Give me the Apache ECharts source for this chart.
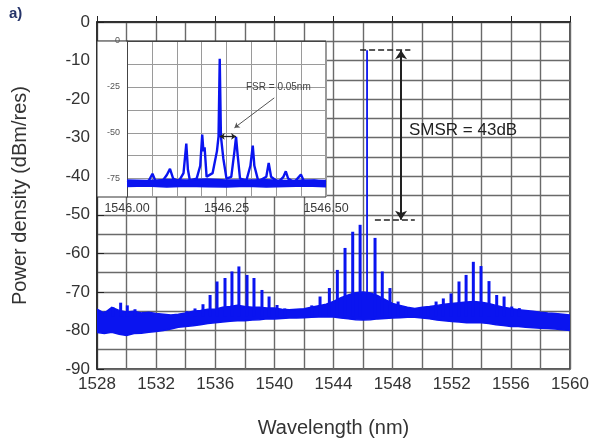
<!DOCTYPE html>
<html>
<head>
<meta charset="utf-8">
<script src="https://cdn.jsdelivr.net/npm/echarts@6/dist/echarts.min.js"></script>
<style>
  html, body { margin: 0; padding: 0; background: #fff; }
  #chart { width: 603px; height: 447px; }
</style>
</head>
<body>
<div id="chart"></div>
<script>
// 主图: 噪声底 (上沿/下沿)
const bandWl = [1528, 1528.5, 1529, 1529.5, 1530, 1530.5, 1531, 1531.5, 1532, 1532.5, 1533, 1533.5,
  1534, 1534.5, 1535, 1535.5, 1536, 1536.5, 1537, 1537.5, 1538, 1538.5, 1539, 1539.5, 1540, 1540.5,
  1541, 1541.5, 1542, 1542.5, 1543, 1543.5, 1544, 1544.5, 1545, 1545.5, 1546, 1546.5, 1547, 1547.5,
  1548, 1548.5, 1549, 1549.5, 1550, 1550.5, 1551, 1551.5, 1552, 1552.5, 1553, 1553.5, 1554, 1554.5,
  1555, 1555.5, 1556, 1556.5, 1557, 1557.5, 1558, 1558.5, 1559, 1559.5, 1560];
const bandTop = [-74.5, -75.5, -74, -74.8, -75.2, -75, -75.5, -75.3, -75.6, -75.8, -76, -75.8,
  -75.5, -75, -74.8, -74.5, -74.5, -74, -73.8, -73.5, -73.8, -74, -74, -74.2, -74.2, -74.5,
  -74.6, -74.5, -74.4, -74, -73.6, -73.2, -72.5, -71.5, -70.8, -70.2, -70, -70.3, -71, -72,
  -73, -73.5, -74, -74.3, -74, -73.8, -73.5, -73.2, -73, -72.8, -72.6, -72.5, -72.7, -73,
  -73.5, -74, -74.3, -74.6, -74.8, -75, -75.3, -75.5, -75.6, -75.8, -76];
const bandBottom = [-80.5, -80.8, -80.5, -81, -81.3, -80.8, -80.7, -80.5, -80.3, -80, -79.6, -79.2,
  -79, -78.8, -78.5, -78.2, -78, -77.8, -77.6, -77.5, -77.5, -77.3, -77.2, -77, -77, -76.9,
  -76.8, -76.8, -76.7, -76.6, -76.5, -76.5, -76.5, -76.8, -77, -77.2, -77.3, -77.2, -77, -76.9,
  -76.8, -76.7, -76.6, -76.6, -76.8, -77, -77.3, -77.5, -77.7, -77.8, -78, -78, -78, -78.2,
  -78.5, -78.7, -79, -79, -79.2, -79.3, -79.4, -79.5, -79.6, -79.8, -80];

// 主图: 梳状峰
const peakWl = [1528.54, 1529.08, 1529.6, 1530.05, 1530.57, 1531.13, 1531.7,
  1534.07, 1534.63, 1535.17, 1535.65, 1536.12, 1536.66, 1537.13, 1537.6, 1538.15, 1538.62, 1539.16, 1539.64, 1540.18, 1540.7,
  1542.53, 1543.09, 1543.72, 1544.26, 1544.78, 1545.3, 1545.8, 1546.81, 1547.3, 1547.82, 1548.37, 1548.9,
  1549.9, 1550.42, 1550.94, 1551.43, 1551.95, 1552.49, 1552.97, 1553.46, 1553.98, 1554.52, 1555.04, 1555.54, 1556.06, 1556.57];
const peakDb = [-75, -74, -72.8, -73.5, -74.5, -75.2, -75.6,
  -75, -74.3, -73.2, -70.8, -67.3, -66.4, -64.7, -63.4, -65.6, -66.4, -69.5, -71.2, -73.4, -74.3,
  -73.5, -71.2, -69, -64.3, -58.6, -54.4, -52.6, -56, -64.7, -69, -72.5, -74,
  -74.5, -73.8, -72.5, -71.7, -70.4, -67.3, -65.6, -62.2, -63.3, -67.2, -70.8, -71.2, -73.8, -74.2];
const mainPeak = [1546.27, -7.3];
const smsrFloor = -51.3;

// 插图
const insetWl = [1546.00, 1546.02, 1546.04, 1546.055, 1546.064, 1546.072, 1546.09, 1546.1, 1546.108, 1546.116,
  1546.13, 1546.142, 1546.149, 1546.153, 1546.158, 1546.175, 1546.184, 1546.189, 1546.192, 1546.195,
  1546.2, 1546.215, 1546.226, 1546.23, 1546.233, 1546.236, 1546.242, 1546.25, 1546.262, 1546.27,
  1546.274, 1546.278, 1546.284, 1546.3, 1546.31, 1546.316, 1546.32, 1546.33, 1546.35, 1546.356,
  1546.362, 1546.38, 1546.393, 1546.399, 1546.405, 1546.42, 1546.437, 1546.445, 1546.47, 1546.5];
const insetDb = [-77, -76.5, -77.5, -76, -72.3, -76.5, -76, -73, -69.7, -75,
  -76.5, -72, -55.9, -70, -76, -75, -68, -51, -60, -58,
  -74, -72, -60, -52, -9.7, -52, -64, -75, -74, -60,
  -52.2, -62, -75, -76, -68, -57, -68, -76.5, -74, -66.4,
  -74, -77, -74, -71, -75, -77, -72.8, -76.5, -76, -77];
const insetBandWl = [1546.0, 1546.05, 1546.1, 1546.15, 1546.2, 1546.25, 1546.3, 1546.35, 1546.4, 1546.45, 1546.5];
const insetBandTop = [-75.8, -76, -75.5, -75.8, -75.2, -75.8, -75.8, -75.6, -76, -75.8, -76];
const insetBandBottom = [-79.3, -79, -79.5, -79.1, -79.4, -79.6, -79.2, -79.5, -79.3, -79, -79.4];
const insetYLabels = [0, -25, -50, -75];
const insetYGrid = [0, -12.5, -25, -37.5, -50, -62.5, -75];
const fsrPeaks = [1546.233, 1546.274, -52];

const BLUE = '#0a14f0';
const GRID_LINE = { lineStyle: { color: '#6a6a6a', width: 1.4 } };
const INSET_LINE = { lineStyle: { color: '#9a9a9a', width: 1 } };

function bandItem(wl, top, bottom, color) {
  return function (params, api) {
    if (params.dataIndex !== 0) return;
    const pts = [];
    for (let i = 0; i < wl.length; i++) pts.push(api.coord([wl[i], top[i]]));
    for (let i = wl.length - 1; i >= 0; i--) pts.push(api.coord([wl[i], bottom[i]]));
    return { type: 'polygon', shape: { points: pts }, style: { fill: color, stroke: color, lineWidth: 1.5 } };
  };
}

const chart = echarts.init(document.getElementById('chart'));

const option = {
  animation: false,
  textStyle: { fontFamily: 'Liberation Sans, Arial, sans-serif' },
  graphic: [
    { type: 'text', left: 9, top: 6, style: { text: 'a)', font: 'bold 15px Liberation Sans', fill: '#26346a' } },
    { type: 'rect', z: 1, shape: { x: 97, y: 41, width: 229, height: 156 },
      style: { fill: '#fff', stroke: '#333', lineWidth: 1 } },
    { type: 'text', z: 10, left: 409, top: 122, style: { text: 'SMSR = 43dB', font: '17px Liberation Sans', fill: '#222' } },
    { type: 'text', z: 10, left: 246, top: 82, style: { text: 'FSR = 0.05nm', font: '10px Liberation Sans', fill: '#444' } }
  ],
  grid: [
    { left: 97, top: 22, width: 473, height: 347, show: true, borderColor: '#222', borderWidth: 1.5 },
    { left: 127, top: 41, width: 199, height: 156 }
  ],
  xAxis: [
    {
      type: 'value', gridIndex: 0, min: 1528, max: 1560, interval: 4,
      name: 'Wavelength (nm)', nameLocation: 'middle', nameGap: 49,
      nameTextStyle: { fontSize: 20, color: '#333' },
      axisLine: { lineStyle: { color: '#222', width: 1.5 } },
      axisTick: { inside: true, length: 6, lineStyle: { color: '#222' } },
      axisLabel: { fontSize: 17, color: '#333', margin: 7, formatter: v => String(v) },
      splitLine: GRID_LINE,
      minorTick: { show: false, splitNumber: 2 },
      minorSplitLine: Object.assign({ show: true }, GRID_LINE)
    },
    {
      type: 'value', gridIndex: 1, min: 1546.0, max: 1546.5, interval: 0.25, z: 2,
      axisLine: { lineStyle: { color: '#444', width: 1 } },
      axisTick: { show: false },
      axisLabel: { fontSize: 12.5, color: '#3a3a3a', margin: 5, formatter: v => v.toFixed(2) },
      splitLine: INSET_LINE,
      minorTick: { show: false, splitNumber: 4 },
      minorSplitLine: Object.assign({ show: true }, INSET_LINE)
    }
  ],
  yAxis: [
    {
      type: 'value', gridIndex: 0, min: -90, max: 0, interval: 10,
      name: 'Power density (dBm/res)', nameLocation: 'middle', nameGap: 67,
      nameTextStyle: { fontSize: 20, color: '#333' },
      axisLine: { lineStyle: { color: '#222', width: 1.5 } },
      axisTick: { inside: true, length: 7, lineStyle: { color: '#222' } },
      axisLabel: { fontSize: 17, color: '#333', margin: 7 },
      splitLine: GRID_LINE,
      minorTick: { show: false, splitNumber: 2 },
      minorSplitLine: Object.assign({ show: true }, GRID_LINE)
    },
    {
      type: 'value', gridIndex: 1, min: -85, max: 0, z: 2,
      axisLine: { lineStyle: { color: '#444', width: 1 } },
      axisTick: { show: false, customValues: insetYGrid },
      axisLabel: { fontSize: 9, color: '#555', margin: 7, customValues: insetYLabels },
      splitLine: INSET_LINE
    }
  ],
  series: [
    {
      type: 'custom', xAxisIndex: 0, yAxisIndex: 0, clip: true,
      data: bandWl.map((w, i) => [w, bandTop[i]]),
      renderItem: bandItem(bandWl, bandTop, bandBottom, BLUE)
    },
    {
      type: 'custom', xAxisIndex: 0, yAxisIndex: 0, clip: true,
      data: peakWl.map((w, i) => [w, peakDb[i]]),
      renderItem: function (params, api) {
        const a = api.coord([api.value(0), -76.5]);
        const b = api.coord([api.value(0), api.value(1)]);
        return { type: 'line', shape: { x1: a[0], y1: a[1], x2: b[0], y2: b[1] },
          style: { stroke: BLUE, lineWidth: 3 } };
      }
    },
    {
      type: 'line', xAxisIndex: 0, yAxisIndex: 0, showSymbol: false, symbol: 'none',
      data: [[mainPeak[0], -72], mainPeak],
      lineStyle: { color: BLUE, width: 1.8 },
      markLine: {
        silent: true, symbol: 'none', label: { show: false },
        lineStyle: { color: '#222', type: 'dashed', width: 1.5 },
        data: [
          [{ coord: [1545.8, mainPeak[1]] }, { coord: [1549.2, mainPeak[1]] }],
          [{ coord: [1546.8, smsrFloor] }, { coord: [1549.5, smsrFloor] }],
          [{ coord: [1548.57, mainPeak[1]], symbol: 'arrow', lineStyle: { type: 'solid', width: 2 } },
           { coord: [1548.57, smsrFloor], symbol: 'arrow' }]
        ],
        symbolSize: 9
      }
    },
    {
      type: 'custom', xAxisIndex: 1, yAxisIndex: 1, z: 3, clip: true,
      data: insetBandWl.map((w, i) => [w, insetBandTop[i]]),
      renderItem: bandItem(insetBandWl, insetBandTop, insetBandBottom, BLUE)
    },
    {
      type: 'line', xAxisIndex: 1, yAxisIndex: 1, z: 4, showSymbol: false, symbol: 'none',
      data: insetWl.map((w, i) => [w, insetDb[i]]),
      lineStyle: { color: BLUE, width: 2.4 },
      markLine: {
        silent: true, label: { show: false }, symbolSize: 5,
        lineStyle: { color: '#222', type: 'solid', width: 1.3 },
        data: [
          [{ coord: [fsrPeaks[0], fsrPeaks[2]], symbol: 'arrow' }, { coord: [fsrPeaks[1], fsrPeaks[2]], symbol: 'arrow' }],
          [{ coord: [1546.37, -31], symbol: 'none', lineStyle: { color: '#555', width: 1 } }, { coord: [1546.27, -47.3], symbol: 'arrow' }]
        ]
      }
    }
  ]
};

chart.setOption(option);
</script>
</body>
</html>
